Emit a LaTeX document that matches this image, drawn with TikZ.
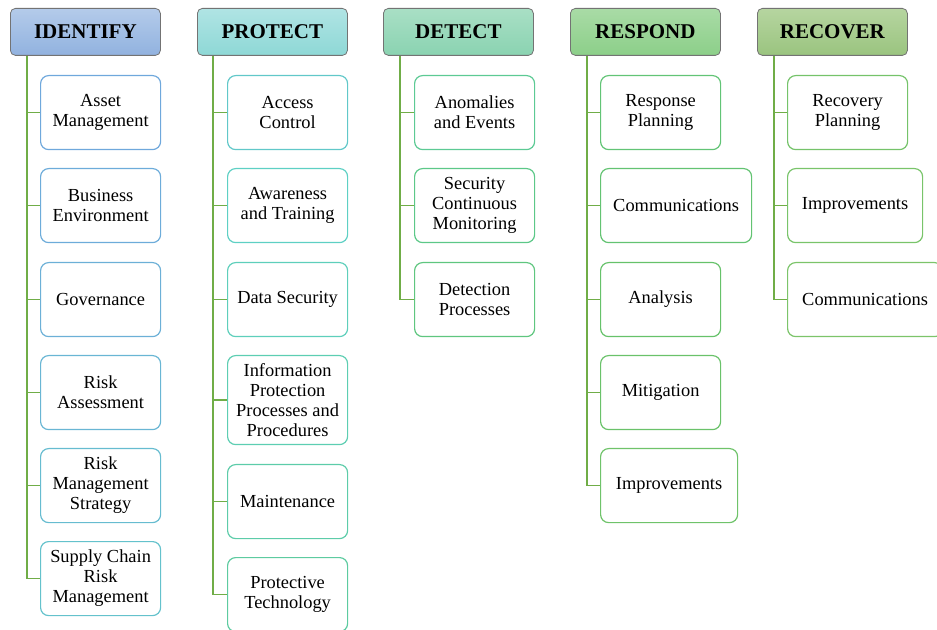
\documentclass[tikz,border=0pt]{standalone}
\usepackage{fontspec}
\setmainfont{Liberation Serif}

\definecolor{linkgreen}{HTML}{70AD47}
\definecolor{idtop}{HTML}{B4CBEA}\definecolor{idbot}{HTML}{91B2DF}
\definecolor{prtop}{HTML}{B0E4E4}\definecolor{prbot}{HTML}{8ED8D6}
\definecolor{detop}{HTML}{A9DFC5}\definecolor{debot}{HTML}{8AD3B1}
\definecolor{retop}{HTML}{A9DBA6}\definecolor{rebot}{HTML}{8CCF89}
\definecolor{rctop}{HTML}{B6D5A0}\definecolor{rcbot}{HTML}{9AC47F}
% leaf borders, blue to green
\definecolor{idline}{HTML}{6FA8DC}
\definecolor{prline}{HTML}{5ED0C4}
\definecolor{deline}{HTML}{5CC888}
\definecolor{reline}{HTML}{66C26A}
\definecolor{rcline}{HTML}{7CC46A}

\begin{document}
\begin{tikzpicture}[x=0.5pt, y=-0.5pt,
  head/.style n args = {2}{shape=rectangle, rounded corners=2.5pt,
    draw=black!55, anchor=north west, minimum width=75pt,
    minimum height=23.5pt, top color=#1, bottom color=#2,
    font=\bfseries\fontsize{10.5}{12}\selectfont},
  leaf/.style = {shape=rectangle, rounded corners=4pt, draw=#1,
    line width=0.6pt, fill=white, anchor=north west, align=center,
    minimum width=60pt, minimum height=37pt, inner sep=1pt,
    font=\fontsize{9.2}{10}\selectfont},
  link/.style = {draw=linkgreen, line width=0.85pt}]
  \useasboundingbox (0,0) rectangle (937,630);

  % headers
  \node[head={idtop}{idbot}] (id) at (10,8) {IDENTIFY};
  \node[head={prtop}{prbot}] (pr) at (197,8) {PROTECT};
  \node[head={detop}{debot}] (de) at (383,8) {DETECT};
  \node[head={retop}{rebot}] (re) at (570,8) {RESPOND};
  \node[head={rctop}{rcbot}] (rc) at (757,8) {RECOVER};

  % identify
  \node[leaf=idline] (id1) at (40,75) {Asset\\Management};
  \node[leaf=idline!90!prline] (id2) at (40,168) {Business\\Environment};
  \node[leaf=idline!80!prline] (id3) at (40,262) {Governance};
  \node[leaf=idline!65!prline] (id4) at (40,355) {Risk\\Assessment};
  \node[leaf=idline!50!prline] (id5) at (40,448) {Risk\\Management\\Strategy};
  \node[leaf=idline!35!prline] (id6) at (40,541) {Supply Chain\\Risk\\Management};

  % protect
  \node[leaf=idline!20!prline] (pr1) at (227,75) {Access\\Control};
  \node[leaf=prline] (pr2) at (227,168) {Awareness\\and Training};
  \node[leaf=prline!85!deline] (pr3) at (227,262) {Data Security};
  \node[leaf=prline!70!deline, minimum height=44.5pt] (pr4) at (227,355)
    {Information\\Protection\\Processes and\\Procedures};
  \node[leaf=prline!55!deline] (pr5) at (227,464) {Maintenance};
  \node[leaf=prline!40!deline] (pr6) at (227,557) {Protective\\Technology};

  % detect
  \node[leaf=prline!20!deline] (de1) at (414,75) {Anomalies\\and Events};
  \node[leaf=deline] (de2) at (414,168) {Security\\Continuous\\Monitoring};
  \node[leaf=deline!70!reline] (de3) at (414,262) {Detection\\Processes};

  % respond
  \node[leaf=deline!40!reline] (re1) at (600,75) {Response\\Planning};
  \node[leaf=deline!25!reline, minimum width=75.5pt] (re2) at (600,168) {Communications};
  \node[leaf=reline] (re3) at (600,262) {Analysis};
  \node[leaf=reline!80!rcline] (re4) at (600,355) {Mitigation};
  \node[leaf=reline!60!rcline, minimum width=68.5pt] (re5) at (600,448) {Improvements};

  % recover
  \node[leaf=reline!30!rcline] (rc1) at (787,75) {Recovery\\Planning};
  \node[leaf=reline!15!rcline, minimum width=67.5pt] (rc2) at (787,168) {Improvements};
  \node[leaf=rcline, minimum width=77.5pt] (rc3) at (787,262) {Communications};

  % connectors
  \foreach \c in {id1,id2,id3,id4,id5,id6}
    \draw[link] ([xshift=8.5pt]id.south west) |- (\c.west);
  \foreach \c in {pr1,pr2,pr3,pr4,pr5,pr6}
    \draw[link] ([xshift=8pt]pr.south west) |- (\c.west);
  \foreach \c in {de1,de2,de3}
    \draw[link] ([xshift=8.5pt]de.south west) |- (\c.west);
  \foreach \c in {re1,re2,re3,re4,re5}
    \draw[link] ([xshift=8.5pt]re.south west) |- (\c.west);
  \foreach \c in {rc1,rc2,rc3}
    \draw[link] ([xshift=8.5pt]rc.south west) |- (\c.west);
\end{tikzpicture}
\end{document}
